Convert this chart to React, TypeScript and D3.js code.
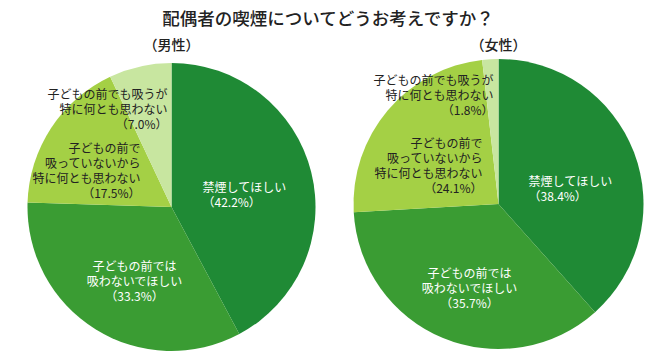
import React, { useEffect, useRef } from 'react';
import * as d3 from 'd3';

const title = '配偶者の喫煙についてどうお考えですか？';
const groups = ['（男性）', '（女性）'];
const categories = [
  ['禁煙してほしい'],
  ['子どもの前では', '吸わないでほしい'],
  ['子どもの前で', '吸っていないから', '特に何とも思わない'],
  ['子どもの前でも吸うが', '特に何とも思わない'],
];
const maleValues = [42.2, 33.3, 17.5, 7.0];
const femaleValues = [38.4, 35.7, 24.1, 1.8];

const colors = ['#1f8a35', '#3a9c33', '#a4d045', '#c8e6a0'];
const textColors = ['#fff', '#fff', '#222', '#222'];

// label block anchor offsets from pie centre, per pie
const labelLayout = [
  [
    { x: 31, y: -12, anchor: 'start' },
    { x: -37, y: 75, anchor: 'middle' },
    { x: -31, y: -36, anchor: 'end' },
    { x: -4, y: -97, anchor: 'end' },
  ],
  [
    { x: 30, y: -15, anchor: 'start' },
    { x: -29, y: 85, anchor: 'middle' },
    { x: -16, y: -38, anchor: 'end' },
    { x: -5, y: -108, anchor: 'end' },
  ],
];

const pies = [
  { values: maleValues, cx: 171.5, cy: 207, r: 144 },
  { values: femaleValues, cx: 498.5, cy: 204, r: 145 },
];

const App = () => {
  const svgRef = useRef<SVGSVGElement>(null);

  useEffect(() => {
    const svg = d3.select(svgRef.current);
    svg.selectAll('*').remove();
    const font = '"Noto Sans CJK JP", "Noto Sans", sans-serif';

    svg.append('rect').attr('width', 670).attr('height', 361).attr('fill', '#fff');

    svg.append('text')
      .attr('x', 328)
      .attr('y', 25)
      .attr('text-anchor', 'middle')
      .style('font-family', font)
      .style('font-size', '17.5px')
      .style('font-weight', 500)
      .attr('fill', '#222')
      .text(title);

    const pie = d3.pie<number>().sort(null).value(d => d);

    pies.forEach((p, pi) => {
      const g = svg.append('g').attr('transform', `translate(${p.cx},${p.cy})`);
      const arc = d3.arc<d3.PieArcDatum<number>>().innerRadius(0).outerRadius(p.r);

      svg.append('text')
        .attr('x', p.cx)
        .attr('y', 50)
        .attr('text-anchor', 'middle')
        .style('font-family', font)
        .style('font-size', '14px')
        .style('font-weight', 500)
        .attr('fill', '#222')
        .text(groups[pi]);

      g.selectAll('path')
        .data(pie(p.values))
        .enter().append('path')
        .attr('d', arc)
        .attr('fill', (d, i) => colors[i]);

      p.values.forEach((v, i) => {
        const lay = labelLayout[pi][i];
        const lines = [...categories[i], `（${v.toFixed(1)}%）`];
        const t = g.append('text')
          .attr('text-anchor', lay.anchor)
          .style('font-family', font)
          .style('font-size', '12px')
          .attr('fill', textColors[i]);
        const startY = lay.y - ((lines.length - 1) * 15) / 2 + 4;
        lines.forEach((ln, li) => {
          t.append('tspan')
            .attr('x', lay.x)
            .attr('y', startY + li * 15)
            .text(ln);
        });
      });
    });
  }, []);

  return (
    <svg ref={svgRef} width={670} height={361} style={{ display: 'block', position: 'absolute', left: 0, top: 0 }} />
  );
};

export default App;
